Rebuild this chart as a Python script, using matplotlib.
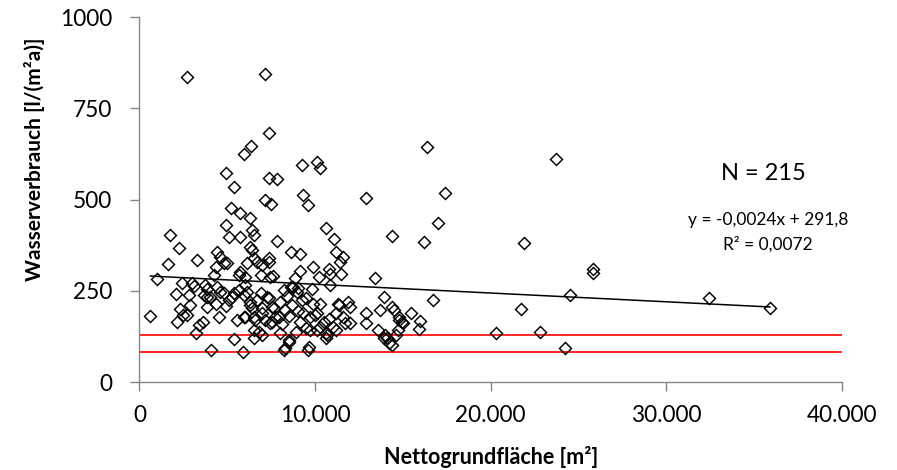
import matplotlib.pyplot as plt
import matplotlib.ticker as mticker
import numpy as np

# Nettogrundflaeche [m2] und Wasserverbrauch [l/(m2a)]
flaeche = [
    2700, 7150, 7400, 6350, 5950, 10100, 10270, 9250, 7360, 7830,
    7170, 7500, 9300, 9580, 12900, 10600, 11100, 14400, 7830, 8600,
    9160, 11200, 7360, 11600, 4900, 5370, 5230, 5700, 6300, 4900,
    5080, 5700, 6400, 1760, 2230, 6400, 4420, 4600, 3300, 1620,
    6500, 6300,
    16360, 23700, 17400, 17000, 16200, 21900, 25800, 25800, 16700, 24500,
    32400, 35900, 21700, 20300, 22800, 24200, 14500, 15450, 14800, 16000,
    15000, 15900, 14700, 14400,
    1000, 620, 2100, 2400, 3000, 3100, 2140, 2330, 2700, 3240,
    3600, 4070, 5370, 5900, 4830, 4380, 4260, 3750, 3850, 4420,
    4380, 4500, 4950, 4830, 5080, 5560, 5940, 5270, 5650, 5940,
    5650, 6030, 6130, 6500, 6300, 6400, 6600, 6500, 6900, 7000,
    6900, 7000, 7450, 7270, 7550, 7170, 6800, 2800, 2900, 3850,
    2500, 3370, 3660, 3850, 5000, 6700, 5740, 6030, 4000, 4600,
    5370, 6100, 6300, 6700, 7000, 7360, 7650, 7930, 7550, 6500,
    6030, 7000, 6500,
    7400, 9150, 9900, 10200, 10800, 10850, 11500, 10850, 13400, 7600,
    8860, 13900, 14400, 13700, 12900, 12900, 13600, 14000, 14200, 14100,
    11900, 12000, 11300, 11200, 11700, 11200, 10800, 10600, 9900, 10000,
    9700, 9600, 8300, 8540, 9240, 9330, 8960, 8760, 8200, 8000,
    8300, 7700, 7440, 10700, 10300, 12000, 14800, 14960, 14600, 13900,
    11400, 10300, 10100, 9700, 10500, 11350, 11600, 11000, 10600, 10100,
    9500, 9640, 8500, 8200, 9160, 8900, 8000, 9000, 8600, 8400,
    8700, 9000, 8500, 8100, 9500, 9800,
]
verbrauch = [
    835, 843, 683, 647, 624, 603, 587, 594, 558, 556,
    498, 489, 512, 485, 503, 421, 393, 401, 387, 357,
    350, 357, 339, 343, 574, 535, 476, 462, 448, 430,
    398, 398, 416, 404, 366, 361, 357, 343, 333, 322,
    402, 370,
    644, 610, 519, 437, 384, 380, 311, 299, 224, 238,
    229, 204, 200, 135, 138, 92, 197, 190, 170, 168,
    161, 145, 142, 101,
    281, 182, 241, 270, 272, 262, 165, 200, 183, 135,
    165, 89, 118, 83, 327, 316, 293, 266, 234, 261,
    215, 179, 208, 243, 225, 170, 179, 234, 252, 238,
    293, 266, 325, 341, 220, 202, 170, 142, 293, 320,
    243, 188, 288, 234, 206, 170, 138, 238, 211, 206,
    183, 156, 238, 256, 325, 329, 302, 288, 234, 247,
    243, 247, 211, 225, 202, 229, 202, 179, 165, 179,
    179, 129, 120,
    329, 305, 316, 288, 311, 296, 296, 266, 284, 290,
    284, 234, 206, 197, 188, 161, 142, 129, 106, 120,
    220, 206, 215, 188, 161, 142, 174, 120, 215, 183,
    142, 88, 92, 115, 225, 188, 247, 261, 252, 220,
    197, 179, 161, 129, 151, 161, 179, 165, 129, 121,
    329, 215, 188, 179, 165, 211, 179, 151, 133, 142,
    147, 97, 110, 88, 165, 138, 133, 257, 261, 235,
    210, 195, 180, 160, 230, 255,
]

grenzwerte = [128, 83]
steigung = -0.0024
achsenabschnitt = 291.8
x_ticks = [0, 10000, 20000, 30000, 40000]
y_ticks = [0, 250, 500, 750, 1000]

plt.rcParams['font.family'] = ['Lato', 'DejaVu Sans']

x = np.array(flaeche)
y = np.array(verbrauch)

fig = plt.figure(figsize=(8.97, 4.70), dpi=100)
ax = fig.add_axes([0.1555, 0.1872, 0.7832, 0.7766])

for g in grenzwerte:
    ax.axhline(g, color='#ff0000', lw=1.2, zorder=1)

ax.plot(x, y, 'D', ms=5.9, mfc='none', mec='black', mew=1.05, zorder=3)

xl = np.array([x.min(), x.max()])
ax.plot(xl, steigung * xl + achsenabschnitt, color='black', lw=1.1, zorder=2)

ax.set_xlim(0, 40000)
ax.set_ylim(0, 1000)
ax.set_xticks(x_ticks)
ax.set_yticks(y_ticks)
ax.xaxis.set_major_formatter(
    mticker.FuncFormatter(lambda v, p: f'{int(v):,}'.replace(',', '.')))

for s in ['top', 'right']:
    ax.spines[s].set_visible(False)
for s in ['left', 'bottom']:
    ax.spines[s].set_color('#868686')
    ax.spines[s].set_linewidth(1.0)
ax.tick_params(colors='#868686', labelcolor='black', labelsize=16.3,
               length=6.5, width=1.0, direction='out')
ax.tick_params(axis='x', pad=10)
ax.tick_params(axis='y', pad=13)

ax.set_xlabel('Nettogrundfläche [m²]', fontsize=15.5, fontweight='bold', va='center')
ax.xaxis.set_label_coords(0.5, -0.205)
ax.set_ylabel('Wasserverbrauch [l/(m²a)]', fontsize=15, fontweight='bold', va='center')
ax.yaxis.set_label_coords(-0.150, 0.611)

ax.text(35500, 570, 'N = 215', fontsize=17, ha='center', va='center')
ax.text(35800, 444, 'y = -0,0024x + 291,8', fontsize=12.5, ha='center', va='center')
ax.text(35800, 378, 'R² = 0,0072', fontsize=12.5, ha='center', va='center')

fig.savefig('out.png', dpi=100)
